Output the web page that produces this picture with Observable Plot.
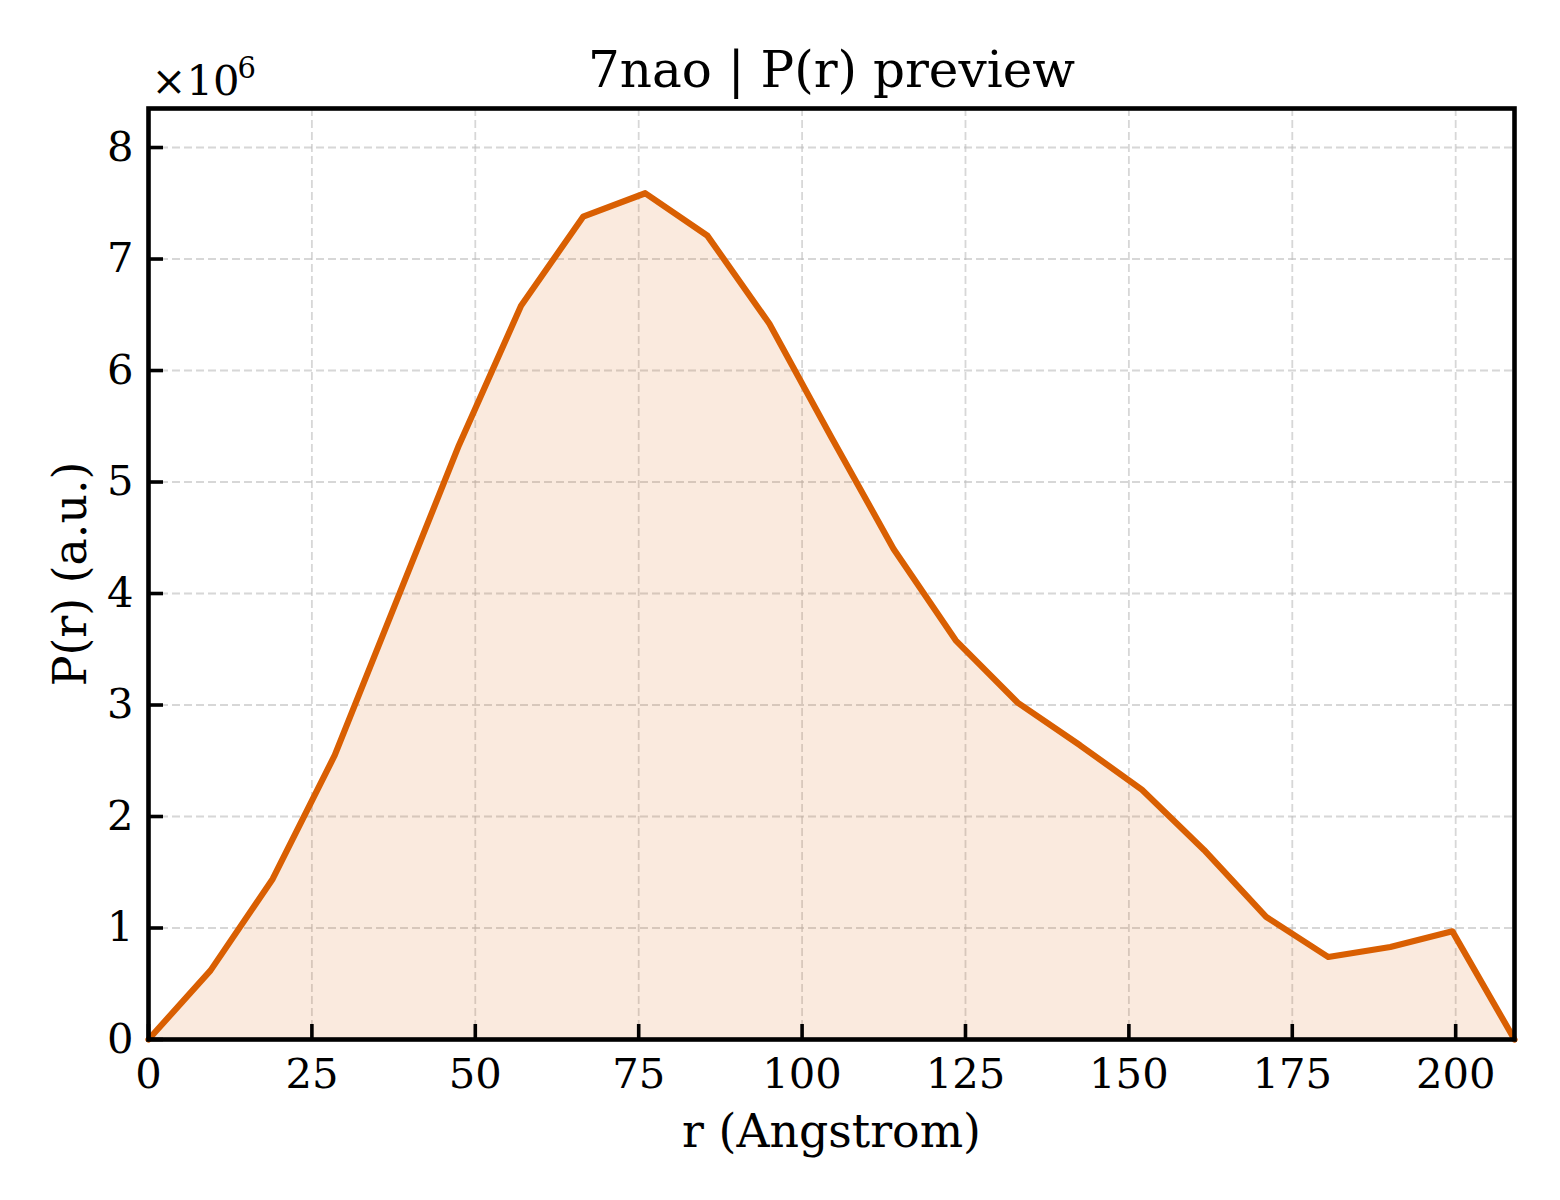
<!DOCTYPE html>
<html><head><meta charset="utf-8">
<script src="https://cdn.jsdelivr.net/npm/d3@7"></script>
<script src="https://cdn.jsdelivr.net/npm/@observablehq/plot@0.6"></script>
<style>body{margin:0;background:#fff}</style>
</head><body><div id="chart"></div>
<script>
// r (Angstrom)
const r = [0, 9.5, 19, 28.5, 38, 47.5, 57, 66.5, 76, 85.5, 95, 104.5, 114, 123.5, 133, 142.5, 152, 161.5, 171, 180.5, 190, 199.5, 209];
// P(r) (a.u.)
const pr = [0, 0.62e6, 1.44e6, 2.55e6, 3.94e6, 5.33e6, 6.58e6, 7.38e6, 7.59e6, 7.21e6, 6.42e6, 5.40e6, 4.40e6, 3.58e6, 3.02e6, 2.64e6, 2.24e6, 1.70e6, 1.10e6, 0.74e6, 0.83e6, 0.97e6, 0];
const xTicks = [0, 25, 50, 75, 100, 125, 150, 175, 200];
const yTicks = [0, 1e6, 2e6, 3e6, 4e6, 5e6, 6e6, 7e6, 8e6];
const yScaleBase = "×10";
const yScaleExp = "6";
const title = "7nao | P(r) preview";
const xLabel = "r (Angstrom)";
const yLabel = "P(r) (a.u.)";

const data = r.map((x, i) => ({r: x, p: pr[i]}));
const color = "#d95f02";
const gridStyle = {stroke: "#bdbdbd", strokeOpacity: 0.6, strokeWidth: 1.8, strokeDasharray: "8,4"};

const chart = Plot.plot({
  width: 1560, height: 1200,
  marginLeft: 148, marginRight: 46, marginTop: 108, marginBottom: 161,
  style: {fontFamily: "DejaVu Serif", background: "#fff", color: "#000"},
  x: {domain: [0, 209]},
  y: {domain: [0, 8.35e6]},
  marks: [
    Plot.gridX(xTicks, gridStyle),
    Plot.gridY(yTicks, gridStyle),
    Plot.areaY(data, {x: "r", y: "p", fill: color, fillOpacity: 0.13}),
    Plot.lineY(data, {x: "r", y: "p", stroke: color, strokeWidth: 6.2}),
    Plot.axisX(xTicks, {tickSize: -15, tickPadding: 34, fontSize: 41.7, label: null, strokeWidth: 3.6, tickFormat: d => String(d)}),
    Plot.axisY(yTicks, {tickSize: -15, tickPadding: 30, fontSize: 41.7, label: null, strokeWidth: 3.6, tickFormat: d => String(d / 1e6)}),
    Plot.frame({stroke: "#000", strokeWidth: 4.6}),
    Plot.text([title], {frameAnchor: "top", lineAnchor: "bottom", dy: -22, fontSize: 50}),
    Plot.text([yScaleBase], {frameAnchor: "top-left", textAnchor: "start", lineAnchor: "bottom", dx: 3, dy: -14, fontSize: 41.7}),
    Plot.text([yScaleExp], {frameAnchor: "top-left", textAnchor: "start", lineAnchor: "bottom", dx: 89, dy: -31, fontSize: 29}),
    Plot.text([xLabel], {frameAnchor: "bottom", lineAnchor: "bottom", dy: 107, fontSize: 45.8}),
    Plot.text([yLabel], {frameAnchor: "left", textAnchor: "middle", lineAnchor: "bottom", rotate: -90, dx: -63, fontSize: 45.8})
  ]
});
document.getElementById("chart").append(chart);
</script>
</body></html>
